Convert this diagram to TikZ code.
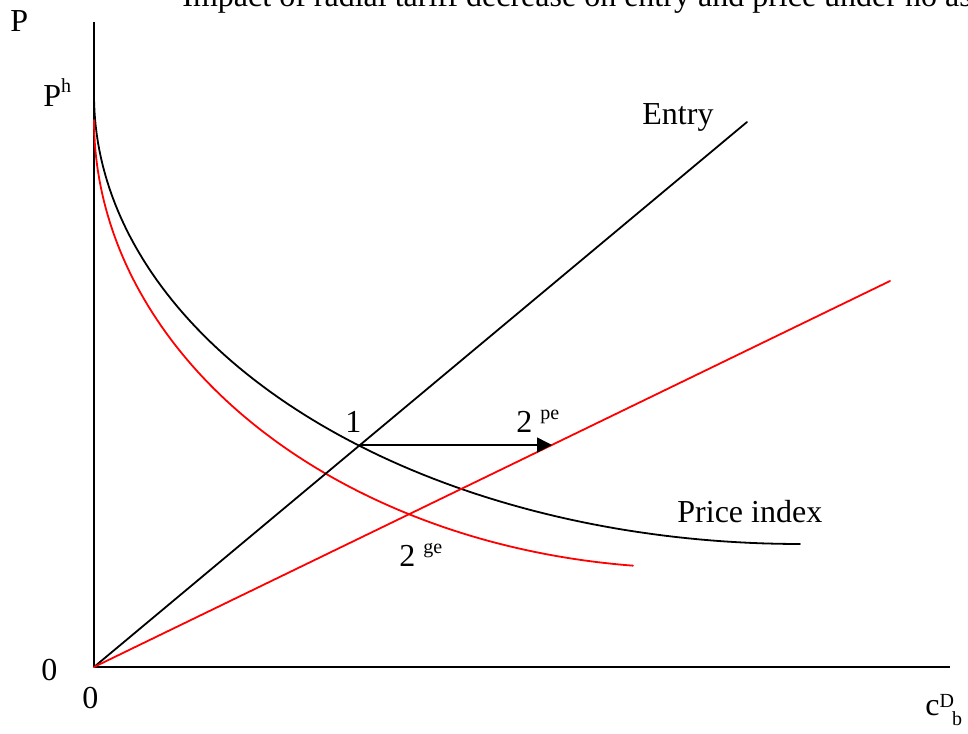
\documentclass[tikz,border=0pt]{standalone}
\usepackage{fontspec}
\setmainfont{Liberation Serif}
\usepackage{tikz}
\usetikzlibrary{arrows.meta, positioning}

\newcommand{\labfont}{\fontsize{16}{19.2}\selectfont}
\newcommand{\supfont}{\fontsize{10}{12}\selectfont}
\newcommand{\supx}[1]{\raisebox{6.5pt}{\supfont #1}}

\begin{document}
\begin{tikzpicture}[
  x=0.5pt, y=-0.5pt,
  >=Stealth,
  axis/.style={draw=black, line width=0.9pt},
  curve/.style={line width=0.9pt, line cap=round},
  shift arrow/.style={draw=black, line width=0.75pt, -{Triangle[length=7.5pt, width=7.5pt]}},
  lab/.style={inner sep=0pt, anchor=base west, font=\labfont}
]

\path[use as bounding box, clip] (0,0) rectangle (968,733);

% Key points
\coordinate (O) at (94,667);
\coordinate (ytop) at (94,22);
\coordinate (xend) at (950,667);
\coordinate (entryend) at (747,122);
\coordinate (redend) at (890,281);
\coordinate (pt1) at (360,445);
\coordinate (pt2pe) at (552,445);

% Title (cut off at the top edge)
\node[lab] (title) at (182,7) {Impact of radial tariff decrease on entry and price under no as};

% Axes
\draw[axis] (O) -- (ytop);
\draw[axis] (O) -- (xend);

% Price index curves (elliptic arcs)
\draw[curve, black] plot[domain=180:90, samples=90] ({800+706*cos(\x)}, {95+449*sin(\x)});
\draw[curve, red] plot[domain=180:95.84, samples=90] ({694+600*cos(\x)}, {120+448*sin(\x)});

% Entry lines
\draw[curve, black] (O) -- (entryend);
\draw[curve, red] (O) -- (redend);

% Shift of the equilibrium
\draw[shift arrow] (pt1) -- (pt2pe);

% Labels
\node[lab] (ylab) at (10,32) {P};
\node[lab] (phlab) at (43,106) {P\supx{h}};
\node[lab] (entrylab) at (642,125) {Entry};
\node[lab] (onelab) at (345,432) {1};
\node[lab] (pelab) at (516,432) {2 \supx{pe}};
\node[lab] (pricelab) at (677,522) {Price index};
\node[lab] (gelab) at (399,566) {2 \supx{ge}};
\node[lab] (zeroy) at (41,680) {0};
\node[lab] (zerox) at (82,708) {0};
\node[lab] (xlab) at (925,715) {c\raisebox{4pt}{\supfont D}\kern-1pt\raisebox{-5pt}{\supfont b}};

\end{tikzpicture}
\end{document}
